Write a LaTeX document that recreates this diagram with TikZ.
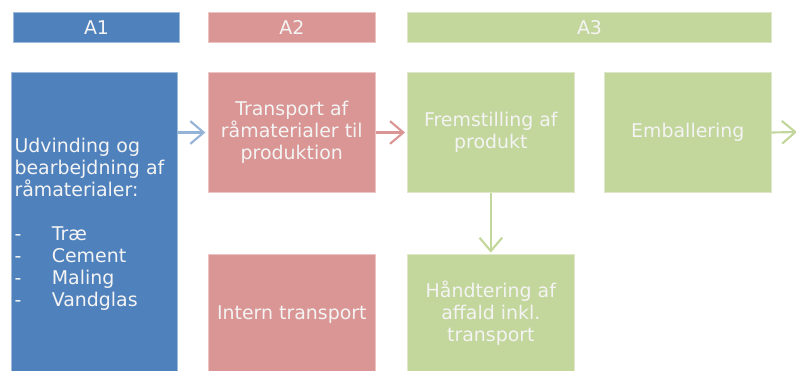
\documentclass[tikz,border=0pt]{standalone}
\usepackage{fontspec}
\setmainfont{DejaVu Sans}
\usetikzlibrary{arrows.meta}
\definecolor{cblue}{HTML}{4F81BD}
\definecolor{cpink}{HTML}{D99694}
\definecolor{cgreen}{HTML}{C3D69B}
\definecolor{ablue}{HTML}{95B3D7}
\definecolor{txt}{HTML}{F4F4F4}
\tikzset{
  box/.style={rectangle, draw=#1!55!white, fill=#1, line width=0.75pt, anchor=north west,
    text=txt, align=center, inner sep=0pt,
    font=\fontsize{14.2}{16.5}\selectfont},
  conn/.style={draw=#1, line width=1.6pt, -{Straight Barb[length=10pt,width=17pt,line width=1.6pt]}},
}
\begin{document}
\begin{tikzpicture}[x=0.75pt,y=-0.75pt]
\clip (0,0) rectangle (796,371);
% headers
\node[box=cblue, minimum width=124.5pt, minimum height=22.5pt] (h1) at (13,12) {A1};
\node[box=cpink, minimum width=125pt, minimum height=22.5pt] (h2) at (208,12) {A2};
\node[box=cgreen, minimum width=273pt, minimum height=22.5pt] (h3) at (407,12) {A3};
% main boxes
\node[box=cblue, minimum width=124.5pt, minimum height=228pt, align=left, text width=120pt] (b1) at (11,72)
{Udvinding og\\bearbejdning af\\råmaterialer:\\[16.5pt]
\makebox[28pt][l]{-}Træ\\\makebox[28pt][l]{-}Cement\\\makebox[28pt][l]{-}Maling\\\makebox[28pt][l]{-}Vandglas};
\node[box=cpink, minimum width=125pt, minimum height=90pt] (b2) at (208,72) {Transport af\\råmaterialer til\\produktion};
\node[box=cpink, minimum width=125pt, minimum height=90pt] (b3) at (208,254) {Intern transport};
\node[box=cgreen, minimum width=125pt, minimum height=90pt] (b4) at (407,72) {Fremstilling af\\produkt};
\node[box=cgreen, minimum width=125pt, minimum height=90pt] (b5) at (604,72) {Emballering};
\node[box=cgreen, minimum width=125pt, minimum height=88pt] (b6) at (407,254) {Håndtering af\\affald inkl.\\transport};
\coordinate (out) at (797,132);
% connectors
\draw[conn=ablue, shorten >=2pt] (b1.east |- b2.east) -- (b2.east -| b2.west);
\draw[conn=cpink, shorten >=1.5pt] (b2.east) -- (b4.west);
\draw[conn=cgreen] (b5.east) -- (out);
\draw[conn=cgreen, shorten >=1pt] (b4.south) -- (b6.north);
\end{tikzpicture}
\end{document}
